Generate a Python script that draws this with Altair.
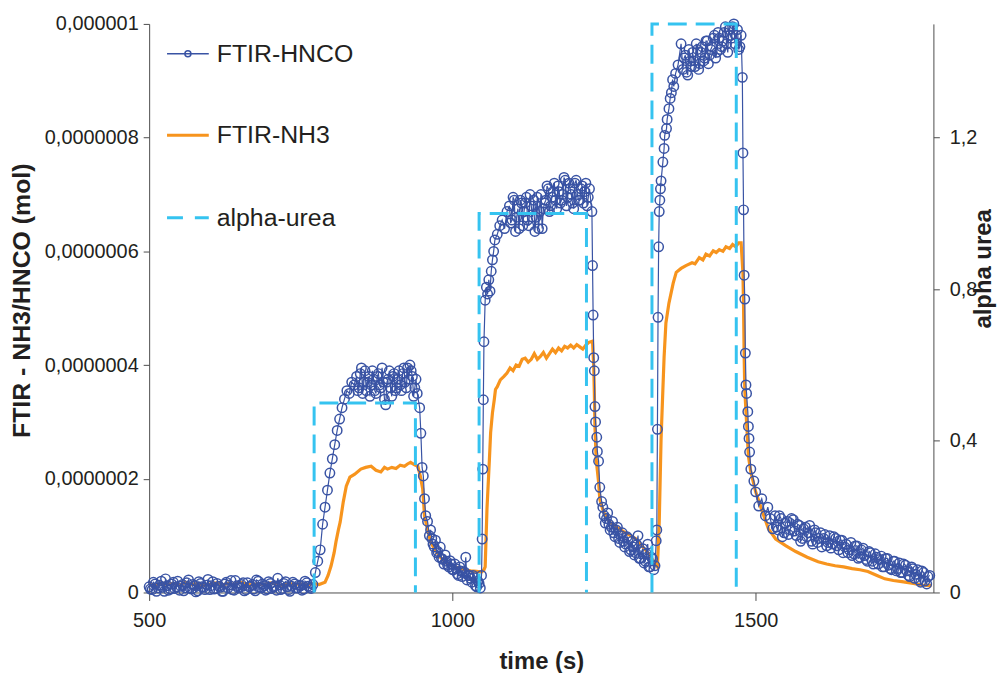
import altair as alt
import pandas as pd

# ---------------- data ----------------
SERIES = ["FTIR-HNCO", "FTIR-NH3", "alpha-urea"]

# FTIR-HNCO, values in units of 1e-7 mol
h_base_t = list(range(500, 771, 5))
h_base_v = [0.10, 0.05, 0.15, 0.08, 0.20, 0.02, 0.12, 0.06, 0.18, 0.10,
            0.04, 0.14, 0.08, 0.22, 0.06, 0.12, 0.03, 0.16, 0.09, 0.13,
            0.05, 0.19, 0.07, 0.11, 0.02, 0.15, 0.08, 0.21, 0.04, 0.12,
            0.09, 0.17, 0.05, 0.10, 0.14, 0.03, 0.20, 0.08, 0.12, 0.06,
            0.16, 0.10, 0.04, 0.13, 0.07, 0.19, 0.05, 0.11, 0.15, 0.08,
            0.12, 0.06, 0.17, 0.09, 0.14]
h_base2_t = list(range(502, 768, 5))
h_base2_v = [0.06, 0.18, 0.02, 0.13, 0.09, 0.24, 0.04, 0.15, 0.07, 0.20,
             0.11, 0.03, 0.17, 0.08, 0.14, 0.01, 0.19, 0.10, 0.05, 0.23,
             0.12, 0.06, 0.16, 0.09, 0.02, 0.18, 0.13, 0.05, 0.21, 0.08,
             0.14, 0.03, 0.17, 0.11, 0.06, 0.22, 0.09, 0.15, 0.04, 0.19,
             0.07, 0.12, 0.25, 0.05, 0.16, 0.10, 0.02, 0.18, 0.08, 0.13,
             0.04, 0.20, 0.11, 0.07]
h_rise1_t = [774, 778, 782, 786, 790, 794, 798, 802, 806, 810, 814, 818, 822, 826, 830, 834, 838]
h_rise1_v = [0.35, 0.55, 0.75, 1.2, 1.5, 1.8, 2.1, 2.35, 2.6, 2.85, 3.05, 3.25, 3.4, 3.55, 3.5, 3.7, 3.65]
h_plat1_t = list(range(842, 943, 4))
h_plat1_v = [3.80, 3.60, 3.95, 3.70, 3.55, 3.80, 3.65, 3.75, 3.50, 3.85, 3.60, 3.70, 3.30,
             3.75, 3.60, 3.80, 3.55, 3.75, 3.65, 3.85, 3.70, 3.95, 4.00, 3.80, 3.60, 3.50]
h_plat1b_t = list(range(844, 941, 4))
h_plat1b_v = [3.55, 3.85, 3.50, 3.90, 3.70, 3.45, 3.90, 3.55, 3.80, 3.65, 3.95, 3.40, 3.70,
              3.90, 3.45, 3.85, 3.60, 3.90, 3.55, 3.95, 3.60, 3.75, 3.90, 3.45, 3.75]
h_fall1_t = [946, 948, 950, 952, 954, 956, 959, 962, 966, 970, 974, 978, 982, 986, 990, 994, 998,
             1002, 1006, 1010, 1014, 1018, 1022, 1026, 1030, 1034, 1038, 1042, 1046]
h_fall1_v = [3.25, 2.8, 2.2, 2.05, 1.65, 1.35, 1.25, 1.0, 0.95, 0.8, 0.7, 0.62, 0.6, 0.5, 0.55, 0.45, 0.5,
             0.4, 0.42, 0.3, 0.38, 0.35, 0.62, 0.3, 0.25, 0.3, 0.12, 0.2, 0.08]
h_tail1b_t = list(range(964, 1045, 4))
h_tail1b_v = [1.10, 0.85, 0.92, 0.72, 0.80, 0.58, 0.66, 0.48, 0.56, 0.40, 0.50, 0.33, 0.45,
              0.28, 0.36, 0.22, 0.30, 0.18, 0.26, 0.10, 0.16]
h_rise2_t = [1048, 1049, 1050, 1051, 1052, 1054, 1056, 1058, 1060, 1062, 1064, 1066, 1068, 1070,
             1074, 1078, 1082, 1086, 1090]
h_rise2_v = [0.3, 0.94, 2.17, 3.39, 4.41, 5.14, 5.37, 5.25, 5.5, 5.3, 5.65, 5.85, 6.0, 6.2,
             6.3, 6.45, 6.55, 6.4, 6.7]
h_plat2_t = list(range(1094, 1227, 4))
h_plat2_v = [6.80, 6.55, 6.90, 6.60, 6.40, 6.85, 6.70, 6.95, 6.45, 6.80, 6.90, 6.60, 6.40, 7.00,
             6.75, 6.90, 7.10, 6.80, 7.05, 6.90, 7.15, 6.85, 7.00, 7.25, 6.95, 7.10, 6.85, 7.20,
             7.00, 6.90, 7.15, 7.05, 6.80, 7.10]
h_plat2b_t = list(range(1096, 1225, 4))
h_plat2b_v = [6.50, 6.95, 6.35, 6.75, 6.90, 6.45, 6.85, 6.55, 7.00, 6.60, 6.35, 6.95, 6.70,
              6.40, 6.85, 7.15, 6.70, 6.95, 7.20, 6.75, 7.05, 6.90, 7.30, 6.80, 7.20, 7.00,
              6.75, 7.25, 6.90, 7.10, 6.85, 7.20, 6.95]
h_fall2_t = [1230, 1231, 1232, 1233, 1234, 1235, 1236, 1238, 1239, 1241, 1243, 1246, 1250, 1254,
             1258, 1262, 1266, 1270, 1274, 1278, 1282, 1286, 1290, 1294, 1298, 1302, 1306, 1310,
             1314, 1318, 1322, 1326, 1330, 1334]
h_fall2_v = [6.7, 5.75, 4.88, 4.13, 3.9, 3.27, 3.0, 2.73, 2.48, 2.31, 1.85, 1.6, 1.35, 1.3,
             1.2, 1.15, 1.05, 1.1, 0.95, 1.0, 0.9, 0.85, 0.95, 0.75, 0.8, 0.7, 1.0, 0.6,
             0.77, 0.55, 0.85, 0.45, 0.59, 0.47]
h_tail2b_t = list(range(1248, 1333, 4))
h_tail2b_v = [1.50, 1.22, 1.40, 1.10, 1.25, 0.98, 1.15, 0.88, 1.05, 0.80, 0.98, 0.72, 0.90,
              0.66, 0.84, 0.60, 0.72, 0.52, 0.68, 0.45, 0.62, 0.40]
h_rise3_t = [1336, 1337, 1338, 1339, 1340, 1341, 1342, 1343, 1344, 1347, 1349, 1350, 1353, 1354,
             1357, 1359, 1361, 1363, 1365, 1368, 1372, 1377]
h_rise3_v = [0.91, 1.10, 2.87, 4.84, 6.08, 6.70, 6.90, 7.10, 7.24, 7.57, 7.81, 8.04, 8.16, 8.32,
             8.51, 8.69, 8.79, 9.02, 8.90, 9.13, 9.28, 9.65]
h_plat3_t = list(range(1380, 1477, 4))
h_plat3_v = [9.20, 9.45, 9.10, 9.35, 9.50, 9.25, 9.55, 9.30, 9.60, 9.40, 9.70, 9.45, 9.60,
             9.80, 9.50, 9.75, 9.60, 9.85, 9.65, 9.90, 9.75, 10.0, 9.80, 9.55, 9.80]
h_plat3b_t = list(range(1382, 1475, 4))
h_plat3b_v = [9.40, 9.15, 9.55, 9.25, 9.35, 9.65, 9.20, 9.50, 9.35, 9.70, 9.30, 9.55, 9.75,
              9.40, 9.85, 9.55, 9.70, 9.95, 9.50, 9.80, 9.95, 9.65, 9.90, 9.60]
h_fall3_t = [1478, 1479, 1480, 1481, 1482, 1483, 1484, 1485, 1487, 1488, 1489, 1490, 1492, 1497,
             1500, 1505, 1510, 1516, 1520, 1524, 1528]
h_fall3_v = [9.06, 7.73, 6.73, 5.58, 5.16, 4.21, 3.65, 3.50, 3.18, 2.92, 2.71, 2.47, 2.17, 1.96,
             1.77, 1.52, 1.65, 1.35, 1.5, 1.3, 1.12]
h_tail3_t = list(range(1532, 1788, 5))
h_tail3_v = [1.35, 1.10, 1.30, 1.05, 1.25, 1.10, 1.28, 1.00, 1.18, 0.95, 1.15, 1.05, 0.90,
             1.10, 0.88, 1.05, 0.95, 0.82, 1.00, 0.85, 0.95, 0.75, 0.92, 0.80, 0.70, 0.88,
             0.68, 0.82, 0.62, 0.78, 0.58, 0.72, 0.55, 0.68, 0.50, 0.64, 0.45, 0.60, 0.42,
             0.55, 0.38, 0.52, 0.35, 0.48, 0.30, 0.45, 0.25, 0.40, 0.18, 0.35, 0.15, 0.30]
h_tail3b_t = list(range(1534, 1785, 5))
h_tail3b_v = [1.15, 1.35, 0.98, 1.22, 1.02, 1.30, 1.08, 1.20, 0.90, 1.12,
              0.98, 1.18, 0.85, 1.05, 0.95, 0.80, 1.02, 0.88, 0.78, 0.98,
              0.82, 0.92, 0.70, 0.85, 0.75, 0.65, 0.82, 0.60, 0.75, 0.65,
              0.55, 0.70, 0.50, 0.62, 0.58, 0.45, 0.60, 0.48, 0.40, 0.55,
              0.42, 0.35, 0.50, 0.38, 0.28, 0.42, 0.32, 0.22, 0.38, 0.20, 0.28]

# FTIR-NH3, values in units of 1e-7 mol
n_base_t = list(range(500, 791, 10))
n_base_v = [0.15, 0.12, 0.17, 0.14, 0.16, 0.13, 0.18, 0.14, 0.16, 0.12, 0.15, 0.17, 0.13, 0.16,
            0.14, 0.18, 0.15, 0.13, 0.16, 0.14, 0.17, 0.15, 0.12, 0.16, 0.14, 0.15, 0.13, 0.16,
            0.14, 0.18]
n_cyc1_t = [795, 800, 805, 808, 812, 815, 820, 825, 831, 839, 849, 857, 866, 874, 882, 888, 893,
            900, 907, 914, 921, 926, 931, 937, 943, 947, 951, 954, 957, 959, 964, 970, 980, 990,
            1000, 1010, 1020, 1030, 1040, 1048, 1052]
n_cyc1_v = [0.30, 0.47, 0.70, 0.89, 1.10, 1.24, 1.59, 1.87, 2.03, 2.08, 2.17, 2.20, 2.22, 2.15,
            2.12, 2.20, 2.17, 2.20, 2.18, 2.24, 2.22, 2.26, 2.29, 2.25, 2.22, 2.05, 1.82, 1.35,
            1.20, 1.12, 0.89, 0.77, 0.62, 0.52, 0.47, 0.43, 0.40, 0.38, 0.37, 0.36, 0.40]
n_cyc2_t = [1054, 1057, 1061, 1063, 1066, 1069, 1071, 1074, 1079, 1085, 1090, 1095, 1100, 1105,
            1110, 1115, 1120, 1125, 1130, 1135, 1140, 1145, 1150, 1155, 1160, 1165, 1170, 1175,
            1180, 1185, 1190, 1195, 1200, 1205, 1210, 1215, 1220, 1225, 1231, 1233, 1234, 1235,
            1237, 1241, 1243, 1249, 1259, 1275, 1290, 1303, 1310, 1318, 1326, 1333, 1338]
n_cyc2_v = [0.45, 1.47, 2.34, 2.81, 3.16, 3.39, 3.57, 3.62, 3.74, 3.80, 3.86, 3.95, 3.90, 4.00,
            3.98, 4.10, 4.12, 4.05, 4.10, 4.20, 4.10, 4.15, 4.22, 4.12, 4.20, 4.28, 4.22, 4.30,
            4.25, 4.33, 4.30, 4.35, 4.30, 4.36, 4.32, 4.28, 4.35, 4.40, 4.42, 3.97, 3.51, 2.92,
            2.34, 1.94, 1.64, 1.42, 1.24, 1.12, 1.02, 0.94, 0.85, 0.75, 0.65, 0.52, 0.45]
n_cyc3_t = [1341, 1344, 1347, 1349, 1352, 1357, 1364, 1369, 1377, 1385, 1395, 1400, 1407, 1413,
            1418, 1424, 1430, 1435, 1440, 1446, 1451, 1457, 1462, 1467, 1472, 1476, 1479, 1480,
            1481, 1482, 1485, 1488, 1492, 1500, 1511, 1521, 1533, 1550, 1566, 1585, 1603, 1617,
            1631, 1645, 1659, 1672, 1685, 1700, 1713, 1727, 1741, 1760, 1775, 1790]
n_cyc3_v = [1.24, 2.69, 3.57, 4.14, 4.74, 5.09, 5.44, 5.63, 5.70, 5.75, 5.80, 5.78, 5.89, 5.85,
            5.95, 5.92, 6.01, 5.98, 6.03, 6.00, 6.08, 6.05, 6.12, 6.08, 6.15, 6.15, 5.61, 5.02,
            4.14, 3.57, 2.99, 2.40, 2.12, 1.77, 1.42, 1.12, 0.94, 0.82, 0.72, 0.62, 0.54, 0.50,
            0.47, 0.45, 0.42, 0.40, 0.37, 0.30, 0.24, 0.21, 0.19, 0.16, 0.13, 0.12]

# alpha-urea square pulses
ALPHA_RISE = [772, 1044, 1329]
ALPHA_FALL = [939, 1221, 1468]
ALPHA_LEVEL = [0.5, 1.0, 1.5]

# axes
X_TICKS = [500, 1000, 1500]
LEFT_TICKS = [0, 2e-7, 4e-7, 6e-7, 8e-7, 1e-6]
LEFT_LABELS = ["0", "0,0000002", "0,0000004", "0,0000006", "0,0000008", "0,000001"]
RIGHT_TICKS = [0, 0.4, 0.8, 1.2]
RIGHT_LABELS = ["0", "0,4", "0,8", "1,2"]

# ---------------- tables ----------------
UNIT = 1e-7
h_t = h_base_t + h_base2_t + h_rise1_t + h_plat1_t + h_plat1b_t + h_fall1_t + h_tail1b_t + \
      h_rise2_t + h_plat2_t + h_plat2b_t + h_fall2_t + h_tail2b_t + h_rise3_t + h_plat3_t + \
      h_plat3b_t + h_fall3_t + h_tail3_t + h_tail3b_t
h_v = h_base_v + h_base2_v + h_rise1_v + h_plat1_v + h_plat1b_v + h_fall1_v + h_tail1b_v + \
      h_rise2_v + h_plat2_v + h_plat2b_v + h_fall2_v + h_tail2b_v + h_rise3_v + h_plat3_v + \
      h_plat3b_v + h_fall3_v + h_tail3_v + h_tail3b_v
hnco_df = pd.DataFrame({"t": h_t, "v": [x * UNIT for x in h_v]}).sort_values("t")

n_t = n_base_t + n_cyc1_t + n_cyc2_t + n_cyc3_t
n_v = n_base_v + n_cyc1_v + n_cyc2_v + n_cyc3_v
nh3_df = pd.DataFrame({"t": n_t, "v": [x * UNIT for x in n_v]})

rows = []
for p, (r, f, lv) in enumerate(zip(ALPHA_RISE, ALPHA_FALL, ALPHA_LEVEL)):
    for i, (t, a) in enumerate([(r, 0), (r, lv), (f, lv), (f, 0)]):
        rows.append({"t": t, "a": a, "pulse": p, "i": i})
alpha_df = pd.DataFrame(rows)

# ---------------- style ----------------
FONT = "Liberation Sans"
TEXT = "#231f20"
AXC = "#4d4d4d"
BLUE = "#3953a4"
ORANGE = "#f7941d"
CYAN = "#35c3f0"

left_expr = "[" + ",".join("'%s'" % s for s in LEFT_LABELS) + "][round(datum.value/%r)]" % LEFT_TICKS[1]
right_expr = "[" + ",".join("'%s'" % s for s in RIGHT_LABELS) + "][round(datum.value/%r)]" % RIGHT_TICKS[1]

x_enc = alt.X("t:Q",
              scale=alt.Scale(domain=[500, 1793], nice=False, zero=False),
              axis=alt.Axis(values=X_TICKS, format="d", title="time (s)",
                            labelFont=FONT, labelFontSize=20, labelColor=TEXT,
                            labelPadding=10, labelFlush=False,
                            tickSize=8, tickColor=AXC, domainColor=AXC, grid=False,
                            titleFont=FONT, titleFontSize=24, titleFontWeight="bold",
                            titleColor=TEXT, titleY=76, titleBaseline="alphabetic"))

y_left = alt.Y("v:Q",
               scale=alt.Scale(domain=[0, 1e-6], nice=False, zero=True),
               axis=alt.Axis(values=LEFT_TICKS, labelExpr=left_expr,
                             labelFont=FONT, labelFontSize=20, labelColor=TEXT,
                             labelPadding=5, labelFlush=False, labelOverlap=False,
                             tickSize=6, tickColor=AXC, domainColor=AXC, grid=False,
                             title="FTIR - NH3/HNCO (mol)", titleFont=FONT, titleFontSize=25,
                             titleFontWeight="bold", titleColor=TEXT, titleAngle=270,
                             titleAlign="center", titleBaseline="alphabetic",
                             titleX=-120, titleY=278))

y_right = alt.Y("a:Q",
                scale=alt.Scale(domain=[0, 1.5], nice=False, zero=True),
                axis=alt.Axis(orient="right", values=RIGHT_TICKS, labelExpr=right_expr,
                              labelFont=FONT, labelFontSize=20, labelColor=TEXT,
                              labelPadding=10, labelFlush=False, labelOverlap=False,
                              tickSize=6, tickColor=AXC, domainColor=AXC, grid=False,
                              title="alpha urea", titleFont=FONT, titleFontSize=24,
                              titleFontWeight="bold", titleColor=TEXT, titleAngle=270,
                              titleAlign="center", titleBaseline="alphabetic",
                              titleX=57, titleY=246))

nh3 = alt.Chart(nh3_df).mark_line(color=ORANGE, strokeWidth=3.2).encode(x=x_enc, y=y_left)
hnco_line = alt.Chart(hnco_df).mark_line(color=BLUE, strokeWidth=1.2).encode(x=x_enc, y=y_left)
hnco_pts = alt.Chart(hnco_df).mark_point(shape="circle", filled=False, size=90, strokeWidth=1.5,
                                         color=BLUE, opacity=1).encode(x=x_enc, y=y_left)

# in-plot legend
leg = alt.Chart(pd.DataFrame({"k": [0]}))
LEG_Y = [30, 112, 195]
leg_layers = [
    leg.mark_rule(color=BLUE, strokeWidth=1.5).encode(x=alt.value(18), x2=alt.value(60), y=alt.value(LEG_Y[0])),
    leg.mark_point(shape="circle", filled=False, size=36, strokeWidth=1.5, color=BLUE, opacity=1)
       .encode(x=alt.value(39), y=alt.value(LEG_Y[0])),
    leg.mark_rule(color=ORANGE, strokeWidth=3.2).encode(x=alt.value(18), x2=alt.value(60), y=alt.value(LEG_Y[1])),
    leg.mark_rule(color=CYAN, strokeWidth=3, strokeDash=[16, 12]).encode(x=alt.value(18), x2=alt.value(60), y=alt.value(LEG_Y[2])),
]
for name, yy in zip(SERIES, LEG_Y):
    leg_layers.append(leg.mark_text(align="left", baseline="middle", font=FONT, fontSize=25, color=TEXT)
                      .encode(x=alt.value(68), y=alt.value(yy), text=alt.value(name)))

alpha = alt.Chart(alpha_df).mark_line(color=CYAN, strokeWidth=3, strokeDash=[19, 9]).encode(
    x=x_enc, y=y_right, detail="pulse:N", order="i:Q")

left = alt.layer(nh3, hnco_line, hnco_pts, *leg_layers)

chart = alt.layer(left, alpha).resolve_scale(y="independent").properties(
    width=789, height=572,
    padding={"left": 142, "top": 14, "right": 66, "bottom": 81},
    autosize="none", background="white",
).configure_view(stroke=None)

chart.save("out.html", embed_options={"renderer": "svg", "actions": False})
